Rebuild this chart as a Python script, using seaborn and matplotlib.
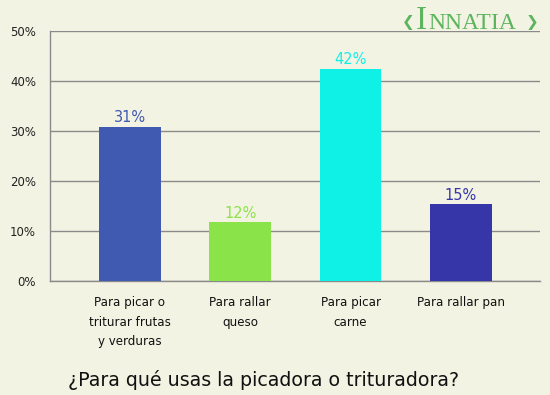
import matplotlib
matplotlib.use('Agg')
import matplotlib.pyplot as plt
import seaborn as sns
import pandas as pd

# chart data
categories = ['Para picar o\ntriturar frutas\ny verduras', 'Para rallar\nqueso',
              'Para picar\ncarne', 'Para rallar pan']
values = [30.9, 11.8, 42.5, 15.4]
labels = ['31%', '12%', '42%', '15%']
colors = ['#3f5ab0', '#8be34a', '#0ff0e6', '#3636a8']
yticks = [0, 10, 20, 30, 40, 50]
title = '¿Para qué usas la picadora o trituradora?'

bg = '#f3f3e3'
grid_col = '#8a8a8a'

sns.set_style('white')
plt.rcParams['font.family'] = ['DejaVu Sans']

df = pd.DataFrame({'cat': categories, 'val': values})

fig = plt.figure(figsize=(5.5, 3.95), dpi=100, facecolor=bg)
ax = fig.add_axes([50 / 550, 1 - 281 / 395, 490 / 550, 250 / 395])
ax.set_facecolor(bg)

sns.barplot(data=df, x='cat', y='val', hue='cat', palette=colors,
            width=0.56, saturation=1, legend=False, ax=ax, zorder=3,
            edgecolor='none', linewidth=0)

for i, (v, lab) in enumerate(zip(values, labels)):
    ax.text(i, v + 0.3, lab, ha='center', va='bottom', fontsize=10.5,
            color=colors[i], zorder=4)

ax.set_xlim(-0.725, 3.717)
ax.set_ylim(0, 50)
ax.set_yticks(yticks)
ax.set_yticklabels([f'{t}%' for t in yticks], fontsize=8.5, color='#222222')
ax.yaxis.grid(True, color=grid_col, linewidth=1.0, zorder=0)
ax.tick_params(axis='y', length=5, color=grid_col, width=1.0, pad=5)

ax.set_xticks(range(len(categories)))
ax.set_xticklabels(categories, fontsize=8.6, color='#111111', linespacing=1.65, va='top')
ax.tick_params(axis='x', length=0, pad=11)
ax.set_xticks([0.5, 1.5, 2.5], minor=True)
ax.tick_params(axis='x', which='minor', length=5, color=grid_col, width=1.0)

ax.set_xlabel('')
ax.set_ylabel('')
for side in ['top', 'right']:
    ax.spines[side].set_visible(False)
for side in ['left', 'bottom']:
    ax.spines[side].set_color(grid_col)
    ax.spines[side].set_linewidth(1.0)

fig.text(264 / 550, 1 - 380 / 395, title, ha='center', va='center',
         fontsize=13.7, color='#111111')

# logo
fig.text(427 / 550, 1 - 29 / 395, 'I', ha='right', va='baseline',
         fontsize=24, color='#4caf50', family='Liberation Serif', alpha=0.9)
fig.text(428 / 550, 1 - 29 / 395, 'NNATIA', ha='left', va='baseline',
         fontsize=17, color='#4caf50', family='Liberation Serif', alpha=0.9)
fig.text(408 / 550, 1 - 22 / 395, '❮', ha='center', va='center',
         fontsize=11, color='#4caf50', alpha=0.9)
fig.text(532 / 550, 1 - 22 / 395, '❯', ha='center', va='center',
         fontsize=11, color='#4caf50', alpha=0.9)

fig.savefig('out.png', dpi=100, facecolor=bg)
